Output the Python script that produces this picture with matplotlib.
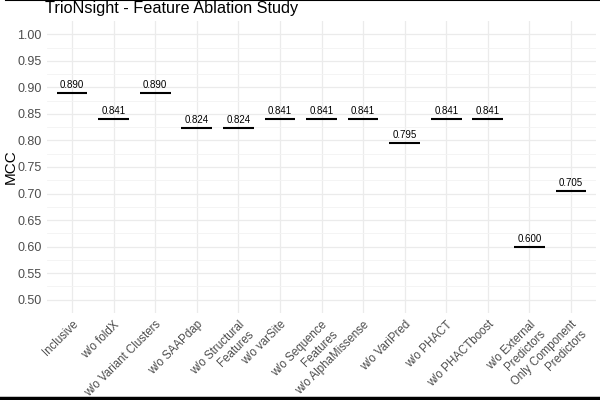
import matplotlib
matplotlib.use('Agg')
import matplotlib.pyplot as plt
from matplotlib.lines import Line2D
import numpy as np

plt.rcParams['font.family'] = ['Liberation Sans', 'DejaVu Sans']

models = ['Inclusive', 'w/o foldX', 'w/o Variant Clusters', 'w/o SAAPdap',
          'w/o Structural\nFeatures', 'w/o varSite', 'w/o Sequence\nFeatures',
          'w/o AlphaMissense', 'w/o VariPred', 'w/o PHACT', 'w/o PHACTboost',
          'w/o External\nPredictors', 'Only Component\nPredictors']
mcc = [0.890, 0.841, 0.890, 0.824, 0.824, 0.841, 0.841, 0.841, 0.795,
       0.841, 0.841, 0.600, 0.705]
yticks = [0.50, 0.55, 0.60, 0.65, 0.70, 0.75, 0.80, 0.85, 0.90, 0.95, 1.00]

fig = plt.figure(figsize=(6, 4), dpi=100)
ax = fig.add_axes([47 / 600, 87 / 400, 549 / 600, 292 / 400])

x = np.arange(len(models))
half = 0.37
ax.hlines(mcc, x - half, x + half, color='black', lw=1.5, zorder=3)
for xi, v in zip(x, mcc):
    ax.annotate(f'{v:.3f}', (xi, v), xytext=(0, 2), textcoords='offset points',
                ha='center', va='bottom', fontsize=7, color='black')

ax.set_xlim(-0.6, len(models) - 0.4)
ax.set_ylim(0.475, 1.025)
ax.set_yticks(yticks)
ax.set_yticklabels([f'{t:.2f}' for t in yticks])
ax.set_yticks(np.arange(0.525, 1.0, 0.05), minor=True)
ax.set_xticks(x)
ax.set_xticklabels(models, rotation=45, ha='right', va='top',
                   rotation_mode='anchor', multialignment='right')

ax.grid(True, which='major', color='#ebebeb', lw=0.9)
ax.grid(True, which='minor', axis='y', color='#f3f3f3', lw=0.6)
ax.set_axisbelow(True)
for s in ax.spines.values():
    s.set_visible(False)
ax.tick_params(which='both', length=0, labelcolor='#4d4d4d', pad=4)
ax.tick_params(axis='y', labelsize=9)
ax.tick_params(axis='x', labelsize=8.3)
ax.set_ylabel('MCC', fontsize=11)
ax.yaxis.set_label_coords(-29 / 549, 0.5)

fig.text(45 / 600, 1 - 12.5 / 400, 'TrioNsight - Feature Ablation Study',
         fontsize=11.7, ha='left', va='baseline')

# black border strips at top and bottom
fig.add_artist(Line2D([0.01, 1], [0.999, 0.999], color='black', lw=1.5,
                      transform=fig.transFigure))
fig.add_artist(Line2D([0, 1], [0.004, 0.004], color='black', lw=2.5,
                      transform=fig.transFigure))

fig.savefig('out.png', dpi=100)
